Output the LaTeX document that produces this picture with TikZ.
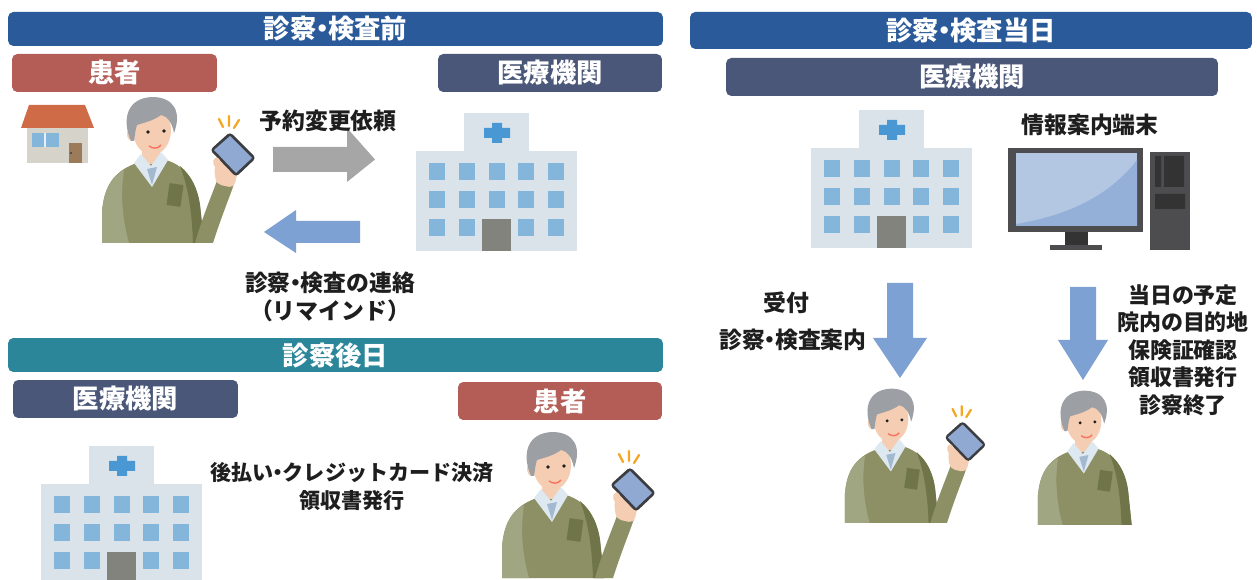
\documentclass[tikz,border=0pt]{standalone}
\usepackage{fontspec}
\setmainfont{Noto Sans CJK JP}
\usetikzlibrary{positioning}

\newcommand{\nakaguro}{\hspace{-0.28em}・\hspace{-0.28em}}

\definecolor{bandblue}{HTML}{2B5A9A}
\definecolor{bandteal}{HTML}{2A8698}
\definecolor{patientred}{HTML}{B35D56}
\definecolor{clinicslate}{HTML}{4A5779}
\definecolor{ink}{HTML}{1E1E1E}
\definecolor{hairgrey}{HTML}{9C9FA4}
\definecolor{skintone}{HTML}{F5CDB2}
\definecolor{vestgreen}{HTML}{8D9065}
\definecolor{vestlight}{HTML}{A0A682}
\definecolor{vestdark}{HTML}{6F7449}
\definecolor{shirtblue}{HTML}{DDE8F0}
\definecolor{tieblue}{HTML}{A3B9D0}
\definecolor{padframe}{HTML}{3C3D40}
\definecolor{padscreen}{HTML}{8FA9D3}
\definecolor{sparkorange}{HTML}{F5A623}
\definecolor{bldgwall}{HTML}{DAE3EA}
\definecolor{bldgwin}{HTML}{84B6DC}
\definecolor{bldgdoor}{HTML}{82837C}
\definecolor{bldgcross}{HTML}{4A98D3}
\definecolor{roofred}{HTML}{CF6B47}
\definecolor{homewall}{HTML}{D6D3CB}
\definecolor{homedoor}{HTML}{9B7B5A}
\definecolor{arrowgrey}{HTML}{A6A6A6}
\definecolor{arrowblue}{HTML}{7EA1D3}
\definecolor{pcframe}{HTML}{4D4D4F}
\definecolor{pcslot}{HTML}{333333}
\definecolor{pclight}{HTML}{B3C7E3}
\definecolor{pcdark}{HTML}{94B0D8}

\tikzset{
    elder/.pic={
        \begin{scope}[shift={(-150,-130)}]
        \fill[vestgreen] (102,243) -- (102,212) .. controls (104,186) and (114,172) .. (134,164)
            -- (166,160) .. controls (186,166) and (196,182) .. (200,205) -- (204,243) -- cycle;
        \fill[vestdark] (193,243) .. controls (192,212) and (188,186) .. (180,166)
            .. controls (192,176) and (198,190) .. (200,205) -- (204,243) -- cycle;
        \fill[vestlight] (102,243) -- (102,212) .. controls (104,190) and (110,178) .. (124,170)
            .. controls (120,196) and (123,222) .. (129,243) -- cycle;
        \fill[skintone] (142,145) rectangle (160,164);
        \fill[shirtblue] (134,163) -- (141,154) -- (151,166) -- (161,152) -- (168,160) -- (152,187) -- cycle;
        \fill[tieblue] (147,169) -- (157,167) -- (152,185) -- cycle;
        \fill[vestdark, rotate around={-8:(175,195)}] (168,184) rectangle (182,206);
        \fill[skintone] (132,134) ellipse (5 and 7);
        \fill[skintone] (152,130) ellipse (19 and 25);
        \fill[hairgrey] (131,141) .. controls (121,118) and (128,98) .. (152,97)
            .. controls (174,97) and (182,112) .. (174,133)
            .. controls (172,122) and (167,116) .. (161,115)
            .. controls (153,121) and (143,123) .. (137,125)
            .. controls (135,131) and (135,136) .. (134,141) -- cycle;
        \fill[ink] (148,132) circle (1.8) (164,131) circle (1.8);
        \draw[red!45!skintone, line width=0.8pt] (149,146) .. controls (153,149) and (158,149) .. (161,145);
        \end{scope}
    },
    tabletarm/.pic={
        \begin{scope}[shift={(-150,-130)}]
        \fill[vestgreen] (195,243) -- (213,243) .. controls (222,215) and (230,196) .. (234,184)
            -- (218,178) .. controls (212,195) and (203,215) .. cycle;
        \fill[skintone, rounded corners=3] (216,184) -- (234,188) -- (238,170) -- (224,158) -- (214,166) -- cycle;
        \fill[padframe, rounded corners=2] (210,150) -- (230,132) -- (256,158) -- (236,177) -- cycle;
        \fill[padscreen] (214,150) -- (230,136) -- (252,158) -- (236,173) -- cycle;
        \fill[skintone, rounded corners=2] (212,160) -- (218,156) -- (222,166) -- (216,170) -- cycle;
        \draw[sparkorange, line width=1.3pt, line cap=round]
            (219,119) -- (223,127) (229,116) -- (229,126) (239,120) -- (234,128);
        \end{scope}
    },
    hospital/.pic={
        \fill[bldgwall] (48,-38) rectangle (113,0);
        \fill[bldgwall] (0,0) rectangle (161,100);
        \foreach \c in {13,43,73,102,132}
            \foreach \r in {12,40,68}
                \fill[bldgwin] (\c,\r) rectangle ++(16,17);
        \fill[bldgdoor] (66,68) rectangle (95,100);
        \fill[bldgcross] (76,-28) rectangle (86,-8) (68,-23) rectangle (94,-13);
    }
}

\begin{document}
\begin{tikzpicture}[
    x=0.02cm, y=-0.02cm,
    band/.style={
        rectangle, rounded corners=3pt, fill=#1, text=white,
        font=\fontsize{15}{18}\selectfont\bfseries, inner sep=0pt
    },
    tag/.style={
        rectangle, rounded corners=3pt, fill=#1, text=white,
        minimum height=0.76cm, font=\fontsize{15}{18}\selectfont\bfseries, inner sep=0pt
    },
    note/.style={
        text=ink, align=center, inner sep=0pt,
        font=\fontsize{13}{16}\selectfont\bfseries
    },
    steps/.style={
        text=ink, align=center, inner sep=0pt,
        font=\fontsize{12.5}{15.6}\selectfont\bfseries
    }
]
\useasboundingbox (0,0) rectangle (1257,580);

% headings
\node[band=bandblue, minimum width=13.1cm, minimum height=0.68cm] (before) at (335.5,29) {診察\nakaguro 検査前};
\node[tag=patientred, minimum width=4.1cm] (patientA) at (114.5,73) {患者};
\node[tag=clinicslate, minimum width=4.48cm] (clinicA) at (550,73) {医療機関};
\node[band=bandteal, minimum width=13.1cm, minimum height=0.68cm] (after) at (335.5,355) {診察後日};
\node[tag=clinicslate, minimum width=4.5cm] (clinicB) at (125.5,399) {医療機関};
\node[tag=patientred, minimum width=4.08cm] (patientB) at (560,401) {患者};
\node[band=bandblue, minimum width=11.24cm, minimum height=0.74cm] (sameday) at (971,30.5) {診察\nakaguro 検査当日};
\node[tag=clinicslate, minimum width=9.84cm] (clinicC) at (972,77) {医療機関};

% home
\fill[roofred] (29,105) -- (85,105) -- (94,128) -- (21,128) -- cycle;
\fill[homewall] (27,128) rectangle (88,163);
\fill[bldgwin] (32,133) rectangle (59,147);
\draw[white!80!bldgwin, line width=0.6pt] (45,133) -- (45,147);
\fill[homedoor] (69,143) rectangle (82,163);
\fill[ink] (71,153) circle (0.8);

% patients and buildings
\pic at (150,130) {elder};
\pic at (150,130) {tabletarm};
\pic at (416,151) {hospital};
\pic at (41,484) {hospital};
\pic at (550,465) {elder};
\pic at (550,465) {tabletarm};
\pic at (811,148) {hospital};
\pic[scale=0.92] at (889,419) {elder};
\pic[scale=0.92] at (889,419) {tabletarm};
\pic[scale=0.92] at (1082,421) {elder};

% terminal
\fill[pcframe] (1008,148) rectangle (1143,232);
\fill[pclight] (1016,153) rectangle (1137,226);
\fill[pcdark] (1016,224) .. controls (1070,215) and (1110,195) .. (1137,160) -- (1137,226) -- (1016,226) -- cycle;
\fill[pcslot] (1065,232) rectangle (1088,245);
\fill[pcframe] (1050,245) rectangle (1102,250);
\fill[pcframe] (1150,152) rectangle (1190,250);
\fill[pcslot] (1155,156) rectangle (1161,187) (1164,156) rectangle (1184,187) (1155,194) rectangle (1185,209);

% block arrows
\fill[arrowgrey] (273,147) -- (347,147) -- (347,128) -- (375,159.5) -- (347,182) -- (347,172) -- (273,172) -- cycle;
\fill[arrowblue] (360,221) -- (296,221) -- (296,210) -- (264,232) -- (296,253) -- (296,243) -- (360,243) -- cycle;
\fill[arrowblue] (887,283) -- (913,283) -- (913,338) -- (927,338) -- (900,378) -- (873,338) -- (887,338) -- cycle;
\fill[arrowblue] (1070,287) -- (1096,287) -- (1096,340) -- (1108,340) -- (1083,380) -- (1058,340) -- (1070,340) -- cycle;

% captions
\node[note] (request) at (328,121) {予約変更依頼};
\node[note] (remind) at (330,283) {診察\nakaguro 検査の連絡};
\node[note] (remindsub) at (330,311) {（リマインド）};
\node[note, font=\fontsize{12}{15.9}\selectfont\bfseries] (payment) at (352,486) {後払い\nakaguro クレジットカード決済\\領収書発行};
\node[note] (kiosk) at (1090,125) {情報案内端末};
\node[note] (reception) at (786,303) {受付};
\node[note] (guide) at (793,340) {診察\nakaguro 検査案内};
\node[steps] (todo) at (1183,350) {当日の予定\\院内の目的地\\保険証確認\\領収書発行\\診察終了};
\end{tikzpicture}
\end{document}
